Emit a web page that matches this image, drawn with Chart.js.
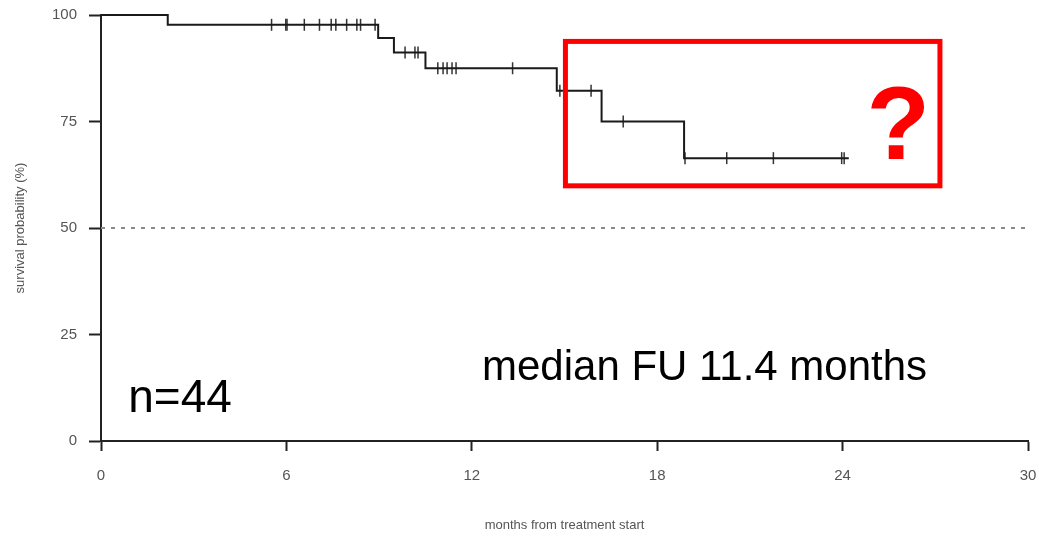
<!DOCTYPE html>
<html lang="en">
<head>
    <meta charset="UTF-8">
    <title>Survival</title>
    <style>
        body {
            margin: 0;
            padding: 0;
            background-color: #ffffff;
        }

        .chart-container {
            width: 1039px;
            height: 537px;
        }
    </style>
</head>
<body>
    <div class="chart-container">
        <canvas id="kmChart"></canvas>
    </div>

    <script src="https://cdn.jsdelivr.net/npm/chart.js"></script>
    <script>
        // Kaplan-Meier steps (months, survival %)
        const eventMonths = [0, 2.16, 8.97, 9.48, 10.5, 14.75, 16.2, 18.87, 24.2];
        const survivalPct = [100, 97.7, 94.6, 91.2, 87.5, 82.2, 75.0, 66.4, 66.4];

        // Censored observations (months)
        const censorMonths = [5.52, 5.98, 6.02, 6.58, 7.07, 7.45, 7.6, 7.95, 8.28, 8.4, 8.87,
            9.84, 10.16, 10.26, 10.9, 11.07, 11.2, 11.36, 11.49, 13.32,
            14.85, 15.86, 16.9, 18.9, 20.25, 21.76, 23.97, 24.05];

        const xTicks = [0, 6, 12, 18, 24, 30];
        const yTicks = [0, 25, 50, 75, 100];
        const medianLine = [50];

        // survival value at a given time from the step data
        function survivalAt(t) {
            let s = survivalPct[0];
            for (let i = 0; i < eventMonths.length; i++) {
                if (eventMonths[i] <= t) s = survivalPct[i];
            }
            return s;
        }

        const curvePoints = eventMonths.map((m, i) => ({ x: m, y: survivalPct[i] }));
        const censorPoints = censorMonths.map(m => ({ x: m, y: survivalAt(m) }));
        const refPoints = [{ x: xTicks[0], y: medianLine[0] }, { x: xTicks[xTicks.length - 1], y: medianLine[0] }];

        // Text and red box drawn on top of the chart
        const overlayPlugin = {
            id: 'overlay',
            afterDraw(chart) {
                const ctx = chart.ctx;
                const xs = chart.scales.x;
                const ys = chart.scales.y;
                ctx.save();
                ctx.fillStyle = '#000000';
                ctx.textBaseline = 'alphabetic';
                ctx.textAlign = 'left';
                ctx.font = '46px "Liberation Sans", Arial, sans-serif';
                ctx.fillText('n=44', xs.getPixelForValue(0.88), ys.getPixelForValue(6.8), 106);
                ctx.font = '42px "Liberation Sans", Arial, sans-serif';
                ctx.fillText('median FU 11.4 months', xs.getPixelForValue(12.33), ys.getPixelForValue(14.3), 452);

                // red box
                ctx.strokeStyle = '#ff0000';
                ctx.lineWidth = 5;
                const x0 = xs.getPixelForValue(15.03);
                const x1 = xs.getPixelForValue(27.15);
                const y0 = ys.getPixelForValue(93.8);
                const y1 = ys.getPixelForValue(59.9);
                ctx.strokeRect(x0, y0, x1 - x0, y1 - y0);

                ctx.fillStyle = '#ff0000';
                ctx.textAlign = 'center';
                ctx.font = 'bold 104px "Liberation Sans", Arial, sans-serif';
                ctx.fillText('?', xs.getPixelForValue(25.8), ys.getPixelForValue(66.1));
                ctx.restore();
            }
        };

        const tickFont = { family: '"Liberation Sans", Arial, sans-serif', size: 15 };
        const titleFont = { family: '"Liberation Sans", Arial, sans-serif', size: 13 };

        const kmCtx = document.getElementById('kmChart').getContext('2d');
        const kmChart = new Chart(kmCtx, {
            type: 'line',
            data: {
                datasets: [{
                    label: 'survival',
                    data: curvePoints,
                    stepped: true,
                    clip: false,
                    borderColor: '#1a1a1a',
                    borderWidth: 2,
                    pointRadius: 0,
                    fill: false
                }, {
                    label: 'censored',
                    data: censorPoints,
                    showLine: false,
                    clip: false,
                    pointStyle: 'line',
                    rotation: 90,
                    pointRadius: 6,
                    pointBorderWidth: 1.5,
                    pointBorderColor: '#333333'
                }, {
                    label: 'median',
                    data: refPoints,
                    borderColor: '#8a8a8a',
                    borderWidth: 2,
                    borderDash: [4, 6],
                    pointRadius: 0,
                    fill: false
                }]
            },
            options: {
                responsive: true,
                maintainAspectRatio: false,
                animation: false,
                layout: {
                    padding: { left: 0, right: 11, top: 15, bottom: 0 }
                },
                plugins: {
                    legend: { display: false },
                    tooltip: { enabled: false }
                },
                scales: {
                    x: {
                        type: 'linear',
                        min: xTicks[0],
                        max: xTicks[xTicks.length - 1],
                        afterBuildTicks: scale => {
                            scale.ticks = xTicks.map(v => ({ value: v }));
                        },
                        afterFit: scale => {
                            scale.height = 96;
                            scale.paddingLeft = 0;
                            scale.paddingRight = 0;
                        },
                        grid: {
                            drawOnChartArea: false,
                            drawTicks: true,
                            tickLength: 10,
                            tickWidth: 2,
                            tickColor: '#222222'
                        },
                        border: { display: true, color: '#222222', width: 2 },
                        ticks: { color: '#555555', font: tickFont, padding: 16, maxRotation: 0 },
                        title: {
                            display: true,
                            text: 'months from treatment start',
                            color: '#555555',
                            font: titleFont,
                            padding: { top: 4, bottom: 4 }
                        }
                    },
                    y: {
                        min: yTicks[0],
                        max: yTicks[yTicks.length - 1],
                        afterBuildTicks: scale => {
                            scale.ticks = yTicks.map(v => ({ value: v }));
                        },
                        afterFit: scale => {
                            scale.width = 101;
                            scale.paddingTop = 0;
                            scale.paddingBottom = 0;
                        },
                        grid: {
                            drawOnChartArea: false,
                            drawTicks: true,
                            tickLength: 12,
                            tickWidth: 2,
                            tickColor: '#222222'
                        },
                        border: { display: true, color: '#222222', width: 2 },
                        ticks: { color: '#555555', font: tickFont, padding: 12 },
                        title: {
                            display: true,
                            text: 'survival probability (%)',
                            color: '#555555',
                            font: titleFont,
                            padding: { top: 13, bottom: 4 }
                        }
                    }
                }
            },
            plugins: [overlayPlugin]
        });
    </script>
</body>
</html>
